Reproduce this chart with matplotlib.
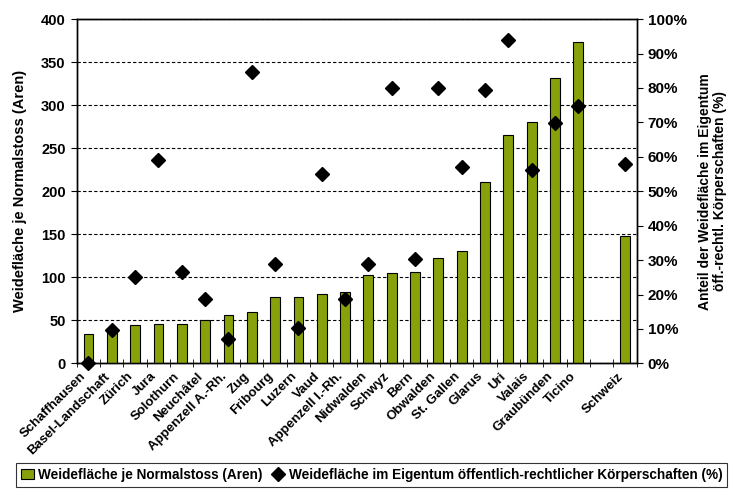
import matplotlib.pyplot as plt
import numpy as np
from matplotlib.lines import Line2D
from matplotlib.patches import Patch
from matplotlib.ticker import FuncFormatter

plt.rcParams['font.family'] = ['Liberation Sans', 'DejaVu Sans']
plt.rcParams['font.weight'] = 'bold'

cantons = ["Schaffhausen", "Basel-Landschaft", "Zürich", "Jura", "Solothurn",
           "Neuchâtel", "Appenzell A.-Rh.", "Zug", "Fribourg", "Luzern", "Vaud",
           "Appenzell I.-Rh.", "Nidwalden", "Schwyz", "Bern", "Obwalden",
           "St. Gallen", "Glarus", "Uri", "Valais", "Graubünden", "Ticino",
           "", "Schweiz"]
aren = [34, 40, 45, 46, 46, 50, 56, 60, 77, 77, 81, 83, 103, 105, 106, 123,
        131, 211, 265, 281, 332, 374, np.nan, 148]
anteil = [0, 9.7, 25.2, 59, 26.6, 18.6, 7.1, 84.7, 28.9, 10.2, 55, 18.7, 28.9,
          79.9, 30.3, 80, 56.9, 79.3, 93.9, 56.3, 69.8, 74.8, np.nan, 57.9]

bar_label = "Weidefläche je Normalstoss (Aren)"
pt_label = "Weidefläche im Eigentum öffentlich-rechtlicher Körperschaften (%)"
green = '#87A10B'

fig = plt.figure(figsize=(7.31, 4.91), dpi=100)
ax = fig.add_axes([0.105, 0.260, 0.766, 0.701])
ax2 = ax.twinx()

x = np.arange(len(cantons))
ax.bar(x, aren, width=0.42, color=green, edgecolor='black', linewidth=0.8, zorder=3)
ax2.plot(x, anteil, linestyle='none', marker='D', markersize=7,
         color='black', zorder=4, clip_on=False)

ax.set_xlim(-0.5, len(cantons) - 0.5)
ax.set_ylim(0, 400)
ax.set_yticks(range(0, 401, 50))
ax.grid(axis='y', linestyle=(0, (3, 2)), color='black', linewidth=0.8, zorder=0)
ax.tick_params(axis='y', direction='out', length=4, labelsize=10.5, pad=4)
ax.set_ylabel("Weidefläche je Normalstoss (Aren)", fontsize=10.5,
              fontweight='bold', labelpad=10)

# labels sit a bit left of the bar centres, like the original
ax.set_xticks(x - 0.35)
ax.set_xticklabels(cantons, rotation=45, ha='right', rotation_mode='anchor',
                   fontsize=9.5)
ax.set_xticks(np.arange(-0.5, len(cantons), 1), minor=True)
ax.tick_params(axis='x', which='major', length=0, pad=5)
ax.tick_params(axis='x', which='minor', direction='inout', length=6)

ax2.set_ylim(0, 100)
ax2.set_yticks(range(0, 101, 10))
ax2.yaxis.set_major_formatter(FuncFormatter(lambda v, p: f"{v:.0f}%"))
ax2.tick_params(axis='y', direction='out', length=4, labelsize=11, pad=4)
ax2.set_ylabel("Anteil der Weidefläche im Eigentum\nöff.-rechtl. Körperschaften (%)",
               fontsize=10, fontweight='bold', labelpad=8, linespacing=1.1)

for a in (ax, ax2):
    for s in a.spines.values():
        s.set_linewidth(1.0)

handles = [Patch(facecolor=green, edgecolor='black', linewidth=0.8),
           Line2D([], [], linestyle='none', marker='D', markersize=7, color='black')]
leg = fig.legend(handles, [bar_label, pt_label], loc='lower center', ncol=2,
                 bbox_to_anchor=(0.508, -0.005), fontsize=9.8, frameon=True,
                 fancybox=False, edgecolor='black', handlelength=1.0,
                 handletextpad=0.3, columnspacing=0.6, borderpad=0.35)
leg.get_frame().set_linewidth(0.8)

fig.savefig('out.png', dpi=100)
